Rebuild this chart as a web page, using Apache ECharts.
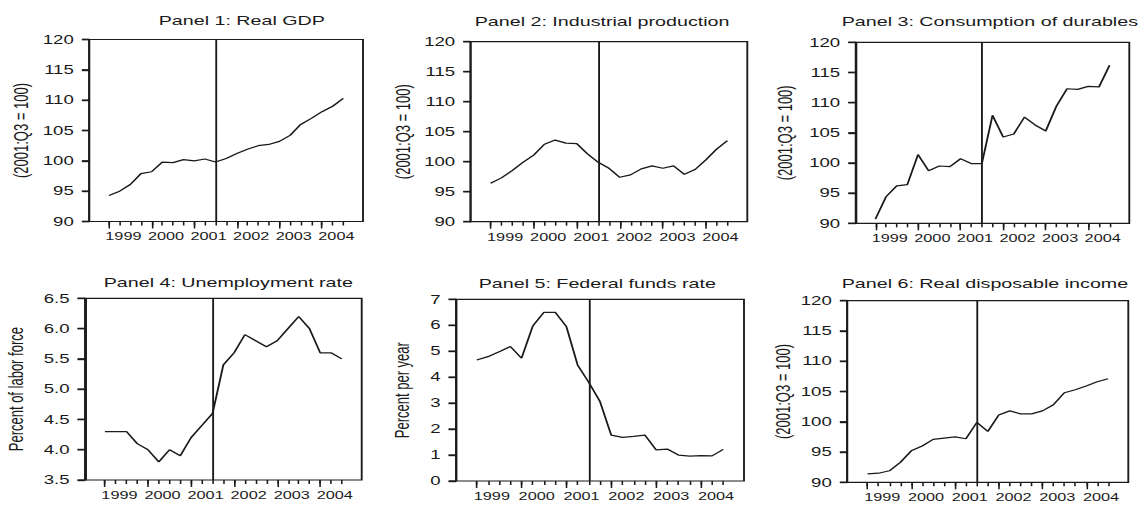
<!DOCTYPE html>
<html>
<head>
<meta charset="utf-8">
<script src="https://cdn.jsdelivr.net/npm/echarts@6/dist/echarts.min.js"></script>
<style>
  html, body { margin: 0; padding: 0; background: #fff; overflow: hidden; }
  /* the source picture is stretched sideways, so the chart is drawn narrow and widened */
  #main { height: 506px; transform-origin: 0 0; }
</style>
</head>
<body>
<div id="main"></div>
<script>
// quarters 1999Q1 .. 2004Q3, index 0..22
const yearLabels = ['1999', '2000', '2001', '2002', '2003', '2004'];
const recessionQuarter = 10; // 2001:Q3

const realGdp = [94.3, 95.0, 96.1, 97.9, 98.2, 99.8, 99.7, 100.2, 100.0, 100.3, 99.8,
  100.4, 101.2, 101.9, 102.5, 102.7, 103.2, 104.2, 106.0, 107.0, 108.1, 109.0, 110.3];
const industrialProd = [96.4, 97.3, 98.5, 99.9, 101.1, 102.9, 103.6, 103.1, 103.0, 101.3, 99.9,
  98.9, 97.4, 97.8, 98.8, 99.3, 98.9, 99.3, 97.9, 98.7, 100.3, 102.1, 103.5];
const durables = [90.7, 94.4, 96.2, 96.4, 101.4, 98.7, 99.5, 99.4, 100.7, 99.9, 99.9,
  107.9, 104.3, 104.8, 107.6, 106.3, 105.3, 109.4, 112.3, 112.2, 112.7, 112.6, 116.2];
const unemployment = [4.3, 4.3, 4.3, 4.1, 4.0, 3.8, 4.0, 3.9, 4.2, 4.4, 4.6,
  5.4, 5.6, 5.9, 5.8, 5.7, 5.8, 6.0, 6.2, 6.0, 5.6, 5.6, 5.5];
const fedFunds = [4.66, 4.79, 4.98, 5.18, 4.73, 5.97, 6.5, 6.5, 5.95, 4.47, 3.8,
  3.06, 1.77, 1.68, 1.72, 1.77, 1.2, 1.23, 1.0, 0.96, 0.98, 0.97, 1.22];
const dispIncome = [91.4, 91.5, 91.9, 93.3, 95.2, 96.0, 97.1, 97.3, 97.5, 97.2, 99.9,
  98.4, 101.1, 101.8, 101.3, 101.3, 101.8, 102.8, 104.8, 105.3, 105.9, 106.6, 107.1];

const titles = ['Panel 1: Real GDP', 'Panel 2: Industrial production', 'Panel 3: Consumption of durables',
  'Panel 4: Unemployment rate', 'Panel 5: Federal funds rate', 'Panel 6: Real disposable income'];
const yNames = ['(2001:Q3 = 100)', '(2001:Q3 = 100)', '(2001:Q3 = 100)',
  'Percent of labor force', 'Percent per year', '(2001:Q3 = 100)'];
const seriesData = [realGdp, industrialProd, durables, unemployment, fedFunds, dispIncome];
const yRanges = [[90, 120, 5], [90, 120, 5], [90, 120, 5], [3.5, 6.5, 0.5], [0, 7, 1], [90, 120, 5]];

const S = 1.55;
const W = 1141;
const px = v => v / S;
const xMin = -1.85, xMax = 23.85;

// frame boxes in picture pixels; tx = left edge of the title
const boxes = [
  { l: 89.3, r: 363, t: 39.5, b: 221.5, tx: 151, ty: 19, gap: 37 },
  { l: 470.7, r: 747.3, t: 41.7, b: 221.7, tx: 467, ty: 20, gap: 37 },
  { l: 855.7, r: 1129.3, t: 42.3, b: 223.3, tx: 834, ty: 20, gap: 39 },
  { l: 85, r: 361.7, t: 298.3, b: 480, tx: 96, ty: 281, gap: 38 },
  { l: 456, r: 744, t: 299.3, b: 481, tx: 471, ty: 282, gap: 28 },
  { l: 847.3, r: 1128.3, t: 300.7, b: 482.3, tx: 834, ty: 282, gap: 35 }
];

const nQ = realGdp.length;
const quarterTicks = [];
for (let i = 0; i < nQ; i++) quarterTicks.push(i);
const yearTicks = quarterTicks.filter(q => q % 4 === 0);
const labelShift = 1.35;
const yearLabelPos = yearTicks.map(q => q + labelShift);

const font = "'Liberation Sans', Arial, sans-serif";
const ink = '#1a1a1a';
const yTickLen = 4.8;

const el = document.getElementById('main');
el.style.width = px(W) + 'px';
el.style.transform = 'scaleX(' + S + ')';

const chart = echarts.init(el, null, { renderer: 'svg' });

let grid = [], xAxis = [], yAxis = [], series = [], title = [];
boxes.forEach((bx, k) => {
  grid.push({
    left: px(bx.l), top: bx.t, width: px(bx.r - bx.l), height: bx.b - bx.t,
    show: true, borderColor: ink, borderWidth: 1.2, containLabel: false
  });
  title.push({
    text: titles[k], left: px(bx.tx), top: bx.ty - 10,
    textStyle: { fontFamily: font, fontSize: 12.7, fontWeight: 'normal', color: ink }
  });
  // minor ticks + year labels
  xAxis.push({
    type: 'value', gridIndex: k, position: 'bottom', min: xMin, max: xMax,
    axisLine: { show: false, onZero: false }, splitLine: { show: false },
    axisTick: { show: true, length: 4, customValues: quarterTicks, lineStyle: { color: ink, width: 1 } },
    axisLabel: {
      show: true, customValues: yearLabelPos, margin: 10,
      fontFamily: font, fontSize: 10.5, color: ink,
      formatter: v => yearLabels[Math.round((v - labelShift) / 4)]
    }
  });
  // longer ticks at each year
  xAxis.push({
    type: 'value', gridIndex: k, position: 'bottom', min: xMin, max: xMax,
    axisLine: { show: false, onZero: false }, splitLine: { show: false },
    axisTick: { show: true, length: 7, customValues: yearTicks, lineStyle: { color: ink, width: 1 } },
    axisLabel: { show: false }
  });
  const yr = yRanges[k];
  const yTicks = [];
  for (let v = yr[0]; v <= yr[1] + 1e-9; v += yr[2]) yTicks.push(+v.toFixed(2));
  yAxis.push({
    type: 'value', gridIndex: k, position: 'left', min: yr[0], max: yr[1], interval: yr[2],
    axisLine: { show: true, onZero: false, lineStyle: { color: ink, width: 1.2 } },
    splitLine: { show: false },
    axisTick: { show: true, inside: false, length: yTickLen, lineStyle: { color: ink, width: 1.4 } },
    axisLabel: {
      margin: 10, fontFamily: font, fontSize: 12, color: ink,
      formatter: v => (yr[2] < 1 ? v.toFixed(1) : String(v))
    },
    name: yNames[k], nameLocation: 'middle', nameGap: bx.gap,
    nameTextStyle: { fontFamily: font, fontSize: 13, color: ink }
  });
  series.push({
    type: 'line', xAxisIndex: k * 2, yAxisIndex: k,
    data: seriesData[k].map((v, i) => [i, v]),
    symbol: 'none', silent: true,
    lineStyle: { color: ink, width: 1.2 },
    markLine: {
      silent: true, symbol: ['none', 'none'], label: { show: false },
      lineStyle: { color: ink, type: 'solid', width: 1.2 },
      data: [{ xAxis: recessionQuarter }]
    }
  });
  // outward y ticks on the left frame, placed through the axis scales
  series.push({
    type: 'custom', xAxisIndex: k * 2, yAxisIndex: k, silent: true, clip: false,
    encode: { x: 0, y: 1 },
    data: yTicks.map(v => [xMin, v]),
    renderItem: (params, api) => {
      const p = api.coord([api.value(0), api.value(1)]);
      return {
        type: 'line',
        shape: { x1: p[0] - yTickLen, y1: p[1], x2: p[0], y2: p[1] },
        style: { stroke: ink, lineWidth: 1.4 }
      };
    }
  });
});

chart.setOption({
  backgroundColor: '#ffffff',
  animation: false,
  title: title,
  grid: grid,
  xAxis: xAxis,
  yAxis: yAxis,
  series: series
});
</script>
</body>
</html>
